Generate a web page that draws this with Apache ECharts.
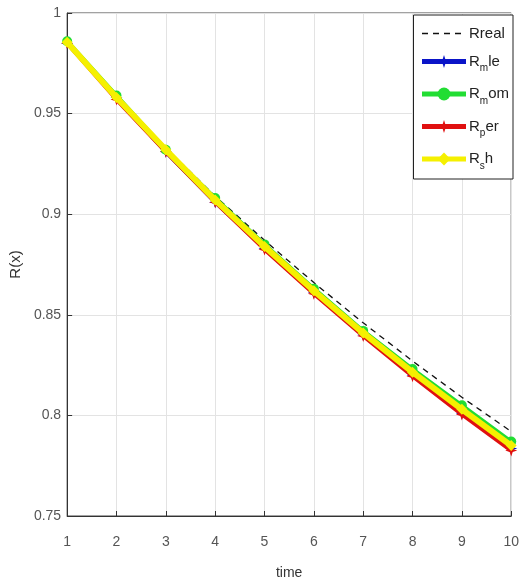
<!DOCTYPE html>
<html><head><meta charset="utf-8">
<script src="https://cdn.jsdelivr.net/npm/echarts@6/dist/echarts.min.js"></script>
<style>html,body{margin:0;padding:0;background:#fff}#c{width:522px;height:585px}</style>
</head><body><div id="c"></div>
<script>
const times = [1,2,3,4,5,6,7,8,9,10];
const Rreal = [0.9855,0.959,0.933,0.909,0.887,0.866,0.846,0.827,0.809,0.792];
const Rmle  = [0.985,0.958,0.931,0.906,0.883,0.861,0.840,0.820,0.801,0.7835];
const Rmom  = [0.986,0.959,0.932,0.908,0.885,0.863,0.842,0.823,0.805,0.787];
const Rper  = [0.985,0.957,0.931,0.906,0.8825,0.8605,0.8395,0.8195,0.8005,0.7825];
const Rsh   = [0.9855,0.958,0.932,0.907,0.884,0.862,0.841,0.8215,0.803,0.785];
const yTicks = [0.75,0.8,0.85,0.9,0.95,1];

const pairs = a => times.map((t,i)=>[t,a[i]]);
const font = 'Liberation Sans, Arial, sans-serif';
const legendLabels = {
  'Rreal':'{b|Rreal}',
  'Rmle':'{b|R}{s|m}{b|le}',
  'Rmom':'{b|R}{s|m}{b|om}',
  'Rper':'{b|R}{s|p}{b|er}',
  'Rsh':'{b|R}{s|s}{b|h}'
};
const star = 'path://M0,-10L2.5,-2.5L10,0L2.5,2.5L0,10L-2.5,2.5L-10,0L-2.5,-2.5Z';
const chart = echarts.init(document.getElementById('c'), null, {renderer:'canvas'});
chart.setOption({
  animation:false,
  backgroundColor:'#fff',
  grid:{left:63,right:9,top:13,bottom:65,show:true,borderColor:'#444',borderWidth:1},
  xAxis:{type:'value',min:1,max:10,interval:1,name:'time',nameLocation:'middle',nameGap:50,
    nameTextStyle:{fontFamily:font,fontSize:14,color:'#333'},
    axisLine:{show:true,lineStyle:{color:'#333'}},
    axisTick:{show:true,inside:true,length:5,lineStyle:{color:'#333'}},
    axisLabel:{fontFamily:font,fontSize:14,color:'#555',margin:19},
    splitLine:{show:true,lineStyle:{color:'#e3e3e3'}}},
  yAxis:{type:'value',min:0.75,max:1,interval:0.05,name:'R(x)',nameLocation:'middle',nameGap:37,
    nameTextStyle:{fontFamily:font,fontSize:15,color:'#333'},
    axisLine:{show:true,lineStyle:{color:'#333'}},
    axisTick:{show:true,inside:true,length:5,lineStyle:{color:'#333'}},
    axisLabel:{fontFamily:font,fontSize:14,color:'#555',margin:6,
      formatter:v=>{const r=Math.round(v*100)/100; return yTicks.includes(r)?String(r):'';}},
    splitLine:{show:true,lineStyle:{color:'#e3e3e3'}}},
  legend:{orient:'vertical',right:9,top:15,padding:[11,4,8,6],itemGap:13,itemWidth:44,itemHeight:16,
    backgroundColor:'#fff',borderColor:'#222',borderWidth:1,
    data:[{name:'Rreal',itemStyle:{opacity:0},lineStyle:{width:1.5}},
          {name:'Rmle',lineStyle:{width:5}},{name:'Rmom',lineStyle:{width:5}},
          {name:'Rper',lineStyle:{width:5}},{name:'Rsh',lineStyle:{width:5}}],
    formatter:n=>legendLabels[n],
    textStyle:{fontFamily:font,fontSize:14,color:'#222',padding:[0,0,0,-2],
      rich:{b:{fontFamily:font,fontSize:15,color:'#222'},s:{fontFamily:font,fontSize:10,color:'#222',padding:[14,0,0,0]}}}},
  series:[
    {name:'Rreal',type:'line',data:pairs(Rreal),showSymbol:false,symbol:'none',z:1,
     lineStyle:{color:'#111',width:1.3,type:[6,5]},itemStyle:{color:'#111'}},
    {name:'Rmle',type:'line',data:pairs(Rmle),symbol:star,symbolSize:12,z:2,
     lineStyle:{color:'#0a14c8',width:4},itemStyle:{color:'#0a14c8'}},
    {name:'Rper',type:'line',data:pairs(Rper),symbol:star,symbolSize:12,z:3,
     lineStyle:{color:'#e01010',width:4},itemStyle:{color:'#e01010'}},
    {name:'Rmom',type:'line',data:pairs(Rmom),symbol:'circle',symbolSize:10,z:4,
     lineStyle:{color:'#22dd33',width:4},itemStyle:{color:'#22dd33'}},
    {name:'Rsh',type:'line',data:pairs(Rsh),symbol:'diamond',symbolSize:11,z:5,
     lineStyle:{color:'#f5f000',width:6},itemStyle:{color:'#f5f000'}}
  ]
});
</script></body></html>
